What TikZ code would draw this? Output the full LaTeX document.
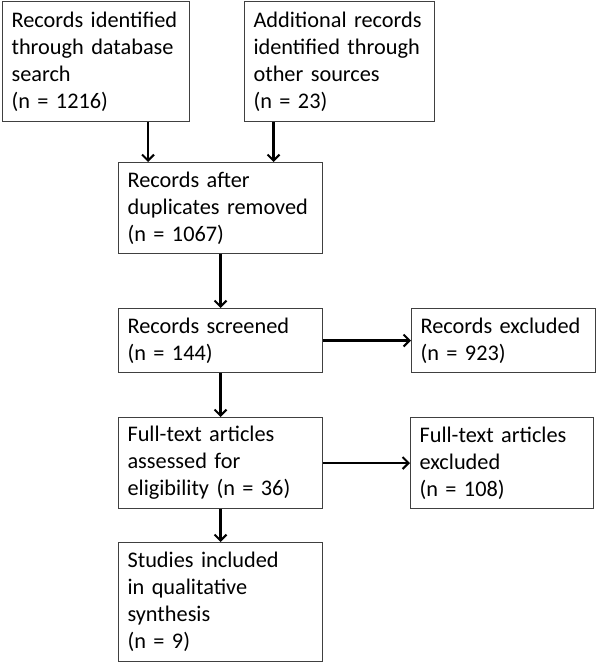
\documentclass[tikz,border=0pt]{standalone}
\usepackage{fontspec}
\setmainfont{Carlito}
\usetikzlibrary{arrows.meta, positioning}

\begin{document}
\begin{tikzpicture}[x=1pt, y=-1pt,
  box/.style={draw=black!75, line width=1.1pt, anchor=north west, align=left, inner xsep=9pt, inner ysep=0pt, font=\fontsize{22.3}{27}\selectfont},
  arr/.style={-{Straight Barb[length=6pt, width=12pt, line width=2pt]}, line width=2.2pt}]
\useasboundingbox (0,0) rectangle (596,663);
\node[box, text width=169pt, minimum height=120pt] (srcdb) at (2,1) {Records identified\\through database\\search\\(n = 1216)};
\node[box, text width=172pt, minimum height=120pt] (srcoth) at (244,1) {Additional records\\identified through\\other sources\\(n = 23)};
\node[box, text width=186pt, minimum height=91pt] (dup) at (118,162) {Records after\\duplicates removed\\(n = 1067)};
\node[box, text width=186pt, minimum height=64pt] (scr) at (118,308) {Records screened\\(n = 144)};
\node[box, text width=166pt, minimum height=64pt] (excl) at (411,308) {Records excluded\\(n = 923)};
\node[box, text width=186pt, minimum height=91pt] (full) at (118,417) {Full-text articles\\assessed for\\eligibility (n = 36)};
\node[box, text width=165pt, minimum height=91pt] (fexcl) at (410,417) {Full-text articles\\excluded\\(n = 108)};
\node[box, text width=186pt, minimum height=119pt] (incl) at (118,542) {Studies included\\in qualitative\\synthesis\\(n = 9)};
\draw[arr] ([xshift=52pt]srcdb.south) -- ([xshift=52pt]srcdb.south |- dup.north);
\draw[arr] ([xshift=-66pt]srcoth.south) -- ([xshift=-66pt]srcoth.south |- dup.north);
\draw[arr] (dup) -- (scr);
\draw[arr] (scr) -- (excl);
\draw[arr] (scr) -- (full);
\draw[arr] (full) -- (fexcl);
\draw[arr] (full) -- (incl);
\end{tikzpicture}
\end{document}
